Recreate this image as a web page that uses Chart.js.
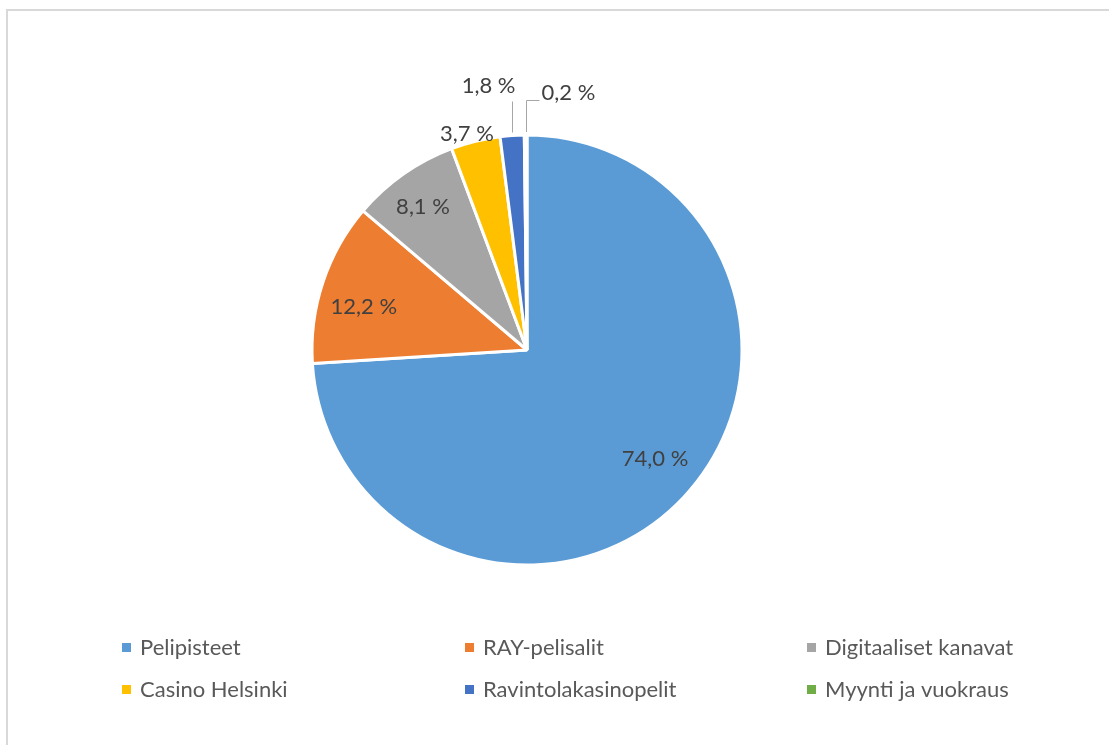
<!DOCTYPE html>
<html lang="fi">
<head>
    <meta charset="UTF-8">
    <title>Tuotot jakelukanavittain</title>
    <style>
        html, body { margin: 0; padding: 0; background: #fff; }
        #frame {
            position: absolute; left: 6px; top: 9px; width: 1200px; height: 800px;
            border-left: 2px solid #d9d9d9; border-top: 2px solid #d9d9d9;
        }
        #pie { position: absolute; left: 0; top: 0; }
    </style>
</head>
<body>
    <div id="frame"></div>
    <canvas id="pie" width="1109" height="745"></canvas>

    <script src="https://cdn.jsdelivr.net/npm/chart.js"></script>
    <script>
        const categories = ['Pelipisteet', 'RAY-pelisalit', 'Digitaaliset kanavat',
                            'Casino Helsinki', 'Ravintolakasinopelit', 'Myynti ja vuokraus'];
        const shares = [74.0, 12.2, 8.1, 3.7, 1.8, 0.2];
        const colors = ['#5B9BD5', '#ED7D31', '#A5A5A5', '#FFC000', '#4472C4', '#70AD47'];

        const FONT = '22px Lato, "Open Sans", sans-serif';

        // where each percent label goes: fraction of radius (+ small nudge), or a leader line
        const labelStyle = [
            { r: 0.785, dx: 5, dy: -7 },
            { r: 0.79, dx: -2, dy: 10 },
            { r: 0.825, dx: -2, dy: 2 },
            { r: 1.05, dx: -6, dy: 3 },
            { leader: 'left' },
            { leader: 'right' }
        ];

        function fmt(v) {
            return v.toFixed(1).replace('.', ',') + '\u00A0%';
        }

        const pctLabels = {
            id: 'pctLabels',
            afterDatasetsDraw(chart) {
                const ctx = chart.ctx;
                const arcs = chart.getDatasetMeta(0).data;
                ctx.save();
                ctx.font = FONT;
                ctx.fillStyle = '#404040';
                ctx.strokeStyle = '#a6a6a6';
                ctx.lineWidth = 1;
                arcs.forEach((arc, i) => {
                    const p = arc.getProps(['x', 'y', 'startAngle', 'endAngle', 'outerRadius'], true);
                    const mid = (p.startAngle + p.endAngle) / 2;
                    const st = labelStyle[i];
                    const text = fmt(shares[i]);
                    if (st.leader) {
                        const ex = Math.round(p.x + p.outerRadius * Math.cos(mid)) + 0.5;
                        const ey = p.y + p.outerRadius * Math.sin(mid);
                        const top = Math.round(ey - 35) + 0.5;
                        ctx.beginPath();
                        ctx.moveTo(ex, ey - 3);
                        ctx.lineTo(ex, top);
                        if (st.leader === 'right') ctx.lineTo(ex + 13, top);
                        ctx.stroke();
                        ctx.textBaseline = 'alphabetic';
                        if (st.leader === 'right') {
                            ctx.textAlign = 'left';
                            ctx.fillText(text, ex + 15, top - 1);
                        } else {
                            ctx.textAlign = 'right';
                            ctx.fillText(text, ex + 3, top - 9);
                        }
                    } else {
                        const lx = p.x + p.outerRadius * st.r * Math.cos(mid) + st.dx;
                        const ly = p.y + p.outerRadius * st.r * Math.sin(mid) + st.dy;
                        ctx.textAlign = 'center';
                        ctx.textBaseline = 'middle';
                        ctx.fillText(text, lx, ly);
                    }
                });
                ctx.restore();
            }
        };

        // legend laid out in 3 columns, 2 rows like the original
        const gridLegend = {
            id: 'gridLegend',
            afterDraw(chart) {
                const ctx = chart.ctx;
                const colX = [122, 465, 807];
                const rowY = [647, 689];
                ctx.save();
                ctx.font = FONT;
                ctx.textAlign = 'left';
                ctx.textBaseline = 'middle';
                categories.forEach((name, i) => {
                    const x = colX[i % 3];
                    const y = rowY[Math.floor(i / 3)];
                    ctx.fillStyle = colors[i];
                    ctx.fillRect(x, y - 4, 9, 9);
                    ctx.fillStyle = '#595959';
                    ctx.fillText(name, x + 18, y + 1);
                });
                ctx.restore();
            }
        };

        new Chart(document.getElementById('pie'), {
            type: 'pie',
            data: {
                labels: categories,
                datasets: [{
                    data: shares,
                    backgroundColor: colors,
                    borderColor: '#ffffff',
                    borderWidth: 3
                }]
            },
            options: {
                responsive: false,
                animation: false,
                radius: 215,
                layout: { padding: { left: 0, right: 55, top: 0, bottom: 45 } },
                plugins: {
                    legend: { display: false },
                    tooltip: { enabled: false }
                }
            },
            plugins: [pctLabels, gridLegend]
        });
    </script>
</body>
</html>
